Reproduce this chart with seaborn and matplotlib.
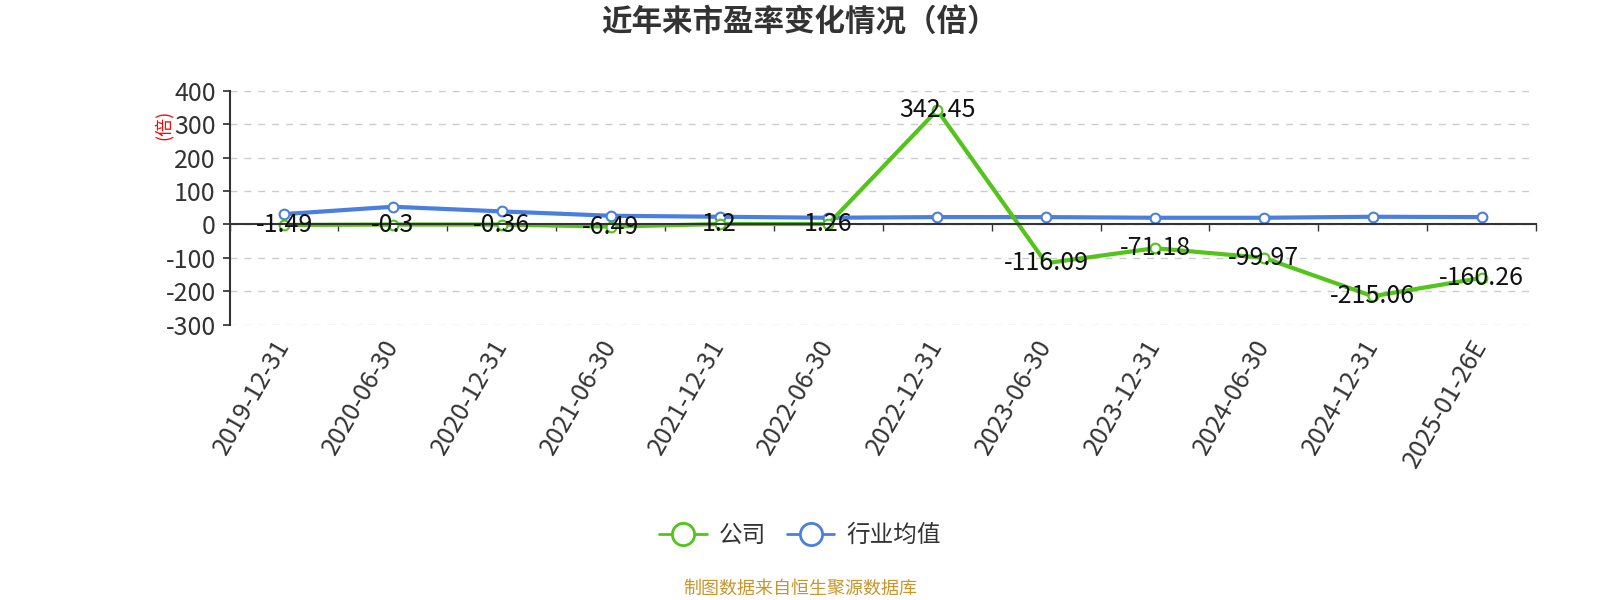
import matplotlib
matplotlib.use("Agg")
import matplotlib.pyplot as plt
from matplotlib.lines import Line2D
from matplotlib.ticker import FixedLocator
import seaborn as sns
import numpy as np
import pandas as pd

dates = ["2019-12-31", "2020-06-30", "2020-12-31", "2021-06-30", "2021-12-31", "2022-06-30",
         "2022-12-31", "2023-06-30", "2023-12-31", "2024-06-30", "2024-12-31", "2025-01-26E"]
company = [-1.49, -0.3, -0.36, -6.49, 1.2, 1.26, 342.45, -116.09, -71.18, -99.97, -215.06, -160.26]
industry = [31, 53, 39, 26, 23, 20, 22, 22, 20, 20, 23, 22]
series_names = ["公司", "行业均值"]
colors = ["#52c41a", "#4a7fe0"]
yticks = [-300, -200, -100, 0, 100, 200, 300, 400]

sns.set_theme(style="white")
plt.rcParams["font.family"] = ["Noto Sans CJK SC", "DejaVu Sans"]

pos = np.arange(len(dates))
df = pd.DataFrame({"pos": pos, series_names[0]: company, series_names[1]: industry})

fig = plt.figure(figsize=(16, 6), dpi=100)
ax = fig.add_axes([0.1435, 0.459, 0.8165, 0.3895])

# industry drawn first, company on top
for name, c in list(zip(series_names, colors))[::-1]:
    sns.lineplot(data=df, x="pos", y=name, color=c, marker="o", markersize=7,
                 markerfacecolor="white", markeredgecolor=c, markeredgewidth=1.5,
                 linewidth=3, ax=ax)

# data labels for company
for x, v in zip(pos, company):
    ax.text(x, v, f"{v:g}", ha="center", va="center", fontsize=18, color="#111", zorder=5)

ax.set_xlim(-0.5, len(dates) - 0.5)
ax.set_ylim(-300, 400)
ax.set_yticks(yticks)
ax.set_yticklabels([str(t) for t in yticks], fontsize=18, color="#333")
ax.yaxis.grid(True, linestyle=(0, (5, 5)), color="#cccccc", linewidth=1)
ax.set_axisbelow(True)

ax.spines["top"].set_visible(False)
ax.spines["right"].set_visible(False)
ax.spines["bottom"].set_position(("data", 0))
ax.spines["bottom"].set_color("#333")
ax.spines["bottom"].set_linewidth(1.5)
ax.spines["left"].set_color("#333")
ax.spines["left"].set_linewidth(1.5)
ax.tick_params(axis="y", direction="out", length=5, color="#333", left=True, pad=5)

ax.set_xticks(pos)
ax.set_xticklabels(dates, rotation=60, ha="right", va="center", rotation_mode="anchor",
                   fontsize=18, color="#333")
ax.tick_params(axis="x", which="major", length=0, pad=84)
ax.xaxis.set_minor_locator(FixedLocator(np.arange(-0.5, len(dates), 1.0)))
ax.tick_params(axis="x", which="minor", direction="out", length=5, color="#333", bottom=True)
ax.set_xlabel("")
ax.set_ylabel("")

ax.text(-0.051, 0.856, "(倍)", transform=ax.transAxes, rotation=90, ha="center", va="center",
        fontsize=13, color="red")

fig.text(0.5, 0.962, "近年来市盈率变化情况（倍）", ha="center", va="center",
         fontsize=22, fontweight="bold", color="#333")

handles = [Line2D([0], [0], color=c, linewidth=2, marker="o", markersize=16,
                  markerfacecolor="white", markeredgewidth=2) for c in colors]
fig.legend(handles, series_names, loc="center", bbox_to_anchor=(0.5, 0.107), ncol=2,
           frameon=False, fontsize=17, handlelength=2.0, columnspacing=0.9,
           handletextpad=0.5, labelcolor="#333")

fig.text(0.5, 0.019, "制图数据来自恒生聚源数据库", ha="center", va="center",
         fontsize=13, color="#c9952b")

fig.savefig("out.png", dpi=100, facecolor="white")
